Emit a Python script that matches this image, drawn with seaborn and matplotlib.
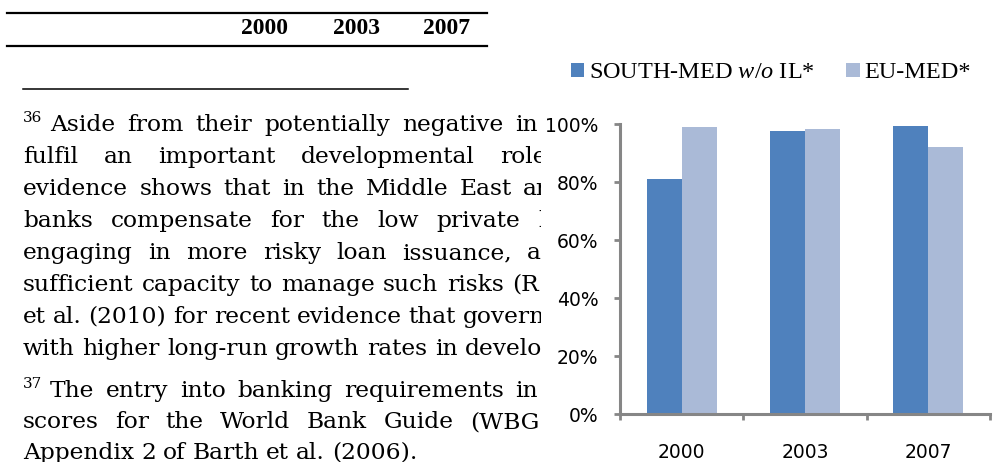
import pandas as pd
import seaborn as sns
import matplotlib
import matplotlib.pyplot as plt
from matplotlib.patches import Rectangle, Patch
from matplotlib.lines import Line2D

matplotlib.rcParams['mathtext.fontset'] = 'custom'
matplotlib.rcParams['mathtext.rm'] = 'Liberation Serif'
matplotlib.rcParams['mathtext.it'] = 'Liberation Serif:italic'

# datos del grafico
anios = ['2000', '2003', '2007']
south_med = [0.81, 0.975, 0.993]
eu_med = [0.989, 0.982, 0.92]
series = ['SOUTH-MED w/o IL*', 'EU-MED*']
colores = ['#4F81BD', '#AABAD7']

# texto del documento (notas al pie)
lineas_36 = [
    "Aside from their potentially negative in",
    "fulfil an important developmental role",
    "evidence shows that in the Middle East ar",
    "banks compensate for the low private b",
    "engaging in more risky loan issuance, a",
    "sufficient capacity to manage such risks (R",
    "et al. (2010) for recent evidence that govern",
    "with higher long-run growth rates in develo",
]
lineas_37 = [
    "The entry into banking requirements in",
    "scores for the World Bank Guide (WBG",
    "Appendix 2 of Barth et al. (2006).",
]

df = pd.DataFrame({
    'anio': anios * 2,
    'valor': south_med + eu_med,
    'serie': [series[0]] * 3 + [series[1]] * 3,
})

W, H = 1000, 462
fig = plt.figure(figsize=(W / 100, H / 100), dpi=100)
renderer = fig.canvas.get_renderer()


def fx(x):
    return x / W


def fy(y):
    return 1 - y / H


def linea_justificada(texto, x0, x_ult, y_base, fs=16.8):
    # coloca palabra por palabra para imitar el texto justificado
    palabras = texto.split(' ')
    objs = [fig.text(0, fy(y_base), p, fontsize=fs, family='DejaVu Serif',
                     va='baseline', ha='left', color='black') for p in palabras]
    if x_ult is None:
        x = x0
        for t in objs:
            t.set_x(fx(x))
            x += t.get_window_extent(renderer).width + 0.3 * fs * 100 / 72
        return
    anchos = [t.get_window_extent(renderer).width for t in objs[:-1]]
    hueco = (x_ult - x0 - sum(anchos)) / max(len(objs) - 1, 1)
    x = x0
    for t, a in zip(objs[:-1], anchos):
        t.set_x(fx(x))
        x += a + hueco
    objs[-1].set_x(fx(x_ult))


# reglas de la tabla
fig.add_artist(Line2D([fx(7), fx(487)], [fy(13), fy(13)], color='black', lw=1.6))
fig.add_artist(Line2D([fx(7), fx(487)], [fy(46), fy(46)], color='black', lw=1.6))
fig.add_artist(Line2D([fx(23), fx(408)], [fy(89), fy(89)], color='black', lw=1.1))
for x, a in zip([265, 357, 447], anios):
    fig.text(fx(x), fy(29), a, fontsize=17, family='Liberation Serif',
             weight='bold', ha='center', va='center')

# nota 36
x_ultimas_36 = [515, 500, 523, 538, 527, 512, 463, 465]
fig.text(fx(23), fy(122), '36', fontsize=11, family='DejaVu Serif', va='baseline')
for i, (txt, xu) in enumerate(zip(lineas_36, x_ultimas_36)):
    x0 = 50 if i == 0 else 23
    linea_justificada(txt, x0, xu, 131 + 32 * i)

# nota 37
x_ultimas_37 = [515, 470, None]
fig.text(fx(23), fy(388), '37', fontsize=11, family='DejaVu Serif', va='baseline')
for i, (txt, xu) in enumerate(zip(lineas_37, x_ultimas_37)):
    x0 = 50 if i == 0 else 23
    linea_justificada(txt, x0, xu, 397 + 31 * i)

# el grafico tapa el texto que queda detras
fig.add_artist(Rectangle((fx(541), 0), 1 - fx(541), 1, transform=fig.transFigure,
                         facecolor='white', edgecolor='none', zorder=4))

ax = fig.add_axes([fx(620), 1 - 414 / H, 370 / W, 290 / H])
ax.set_zorder(5)
sns.barplot(data=df, x='anio', y='valor', hue='serie', palette=colores,
            width=0.57, saturation=1, linewidth=0, legend=False, ax=ax)

gris = '#868686'
ax.set_ylim(0, 1)
ax.set_xlim(-0.5, 2.5)
ax.set_yticks([0, 0.2, 0.4, 0.6, 0.8, 1.0])
ax.set_yticklabels(['0%', '20%', '40%', '60%', '80%', '100%'])
ax.set_xticks([-0.5, 0.5, 1.5, 2.5], minor=True)
ax.tick_params(axis='x', which='major', length=0, pad=21, labelsize=13.5)
ax.tick_params(axis='x', which='minor', length=4.5, width=2, color=gris, direction='out')
ax.tick_params(axis='y', length=4.5, width=2, color=gris, pad=11, labelsize=13.5)
for s in ['top', 'right']:
    ax.spines[s].set_visible(False)
for s in ['left', 'bottom']:
    ax.spines[s].set_color(gris)
    ax.spines[s].set_linewidth(2.2)
ax.set_xlabel('')
ax.set_ylabel('')

handles = [Patch(facecolor=c, edgecolor='none') for c in colores]
etiquetas = ['SOUTH-MED $\\mathit{w/o}$ IL*', 'EU-MED*']
ax.legend(handles, etiquetas, loc='center', bbox_to_anchor=(fx(771), fy(73)),
          bbox_transform=fig.transFigure, ncol=2, frameon=False,
          prop={'family': 'Liberation Serif', 'size': 17.5},
          handlelength=0.55, handleheight=0.55, handletextpad=0.2,
          columnspacing=1.3, borderpad=0)

fig.savefig('out.png', dpi=100)
